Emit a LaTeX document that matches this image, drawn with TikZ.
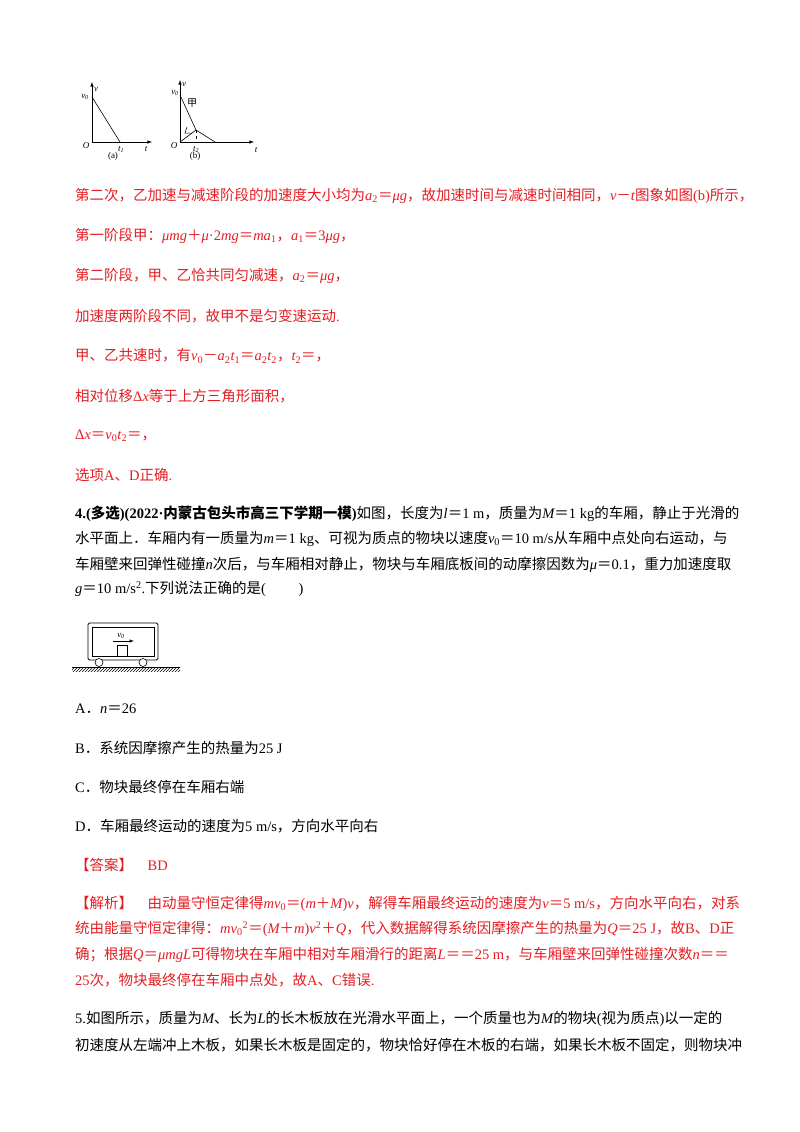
\documentclass[tikz,border=0pt]{standalone}
\usepackage{fontspec}
\setmainfont{Noto Sans CJK SC}
\newfontfamily\lt{Liberation Serif}
\newcommand{\mi}[1]{{\lt\itshape #1}}
\newcommand{\ru}[1]{{\lt #1}}
\usetikzlibrary{patterns}
\definecolor{ans}{RGB}{228,30,36}
\begin{document}
\begin{tikzpicture}[x=1pt,y=-1pt,
  tx/.style={anchor=west,inner sep=0,font=\fontsize{14.5}{16}\selectfont},
  rt/.style={tx,text=ans},
  gl/.style={inner sep=0,font=\lt\itshape\fontsize{9}{10}\selectfont},
  ax/.style={-latex,line width=0.6pt}]
\useasboundingbox[fill=white] (0,0) rectangle (800,1132);
% graph (a)
\coordinate (oa) at (92,142);
\draw[ax] (oa) -- (92,82);
\draw[ax] (oa) -- (152,142);
\draw[line width=0.6pt] (92,97) -- (120,142);
\node[gl] (va) at (85,97) {v\textsubscript{0}};
\node[gl] at (96,89) {v};
\node[gl] at (86,146) {O};
\node[gl] at (121,149) {t\textsubscript{1}};
\node[gl] at (146,149) {t};
\node[inner sep=0,font=\lt\fontsize{9}{10}\selectfont] at (113,156) {(a)};
% graph (b)
\coordinate (ob) at (180,142);
\draw[ax] (ob) -- (180,80);
\draw[ax] (ob) -- (254,142);
\draw[line width=0.6pt] (180,95) -- (196,130) -- (215,142);
\draw[line width=0.6pt] (180,142) -- (196,130);
\draw[dashed,line width=0.5pt] (196,130) -- (196,142);
\draw[line width=0.5pt] (187,127) -- (185,133) -- (192,133);
\node[gl] at (184,84) {v};
\node[gl] at (175,93) {v\textsubscript{0}};
\node[inner sep=0,font=\fontsize{10}{11}\selectfont] at (192,103) {甲};
\node[gl] at (174,146) {O};
\node[gl] at (196,149) {t\textsubscript{2}};
\node[gl] at (256,150) {t};
\node[inner sep=0,font=\lt\fontsize{9}{10}\selectfont] at (195,156) {(b)};
% red text
\node[rt] (l1) at (75,196) {第二次，乙加速与减速阶段的加速度大小均为\mi{a}\ru{\textsubscript{2}}＝\mi{μg}，故加速时间与减速时间相同，\mi{v}－\mi{t}图象如图\ru{(b)}所示，};
\node[rt] (l2) at (75,236) {第一阶段甲：\mi{μmg}＋\mi{μ}\ru{·2}\mi{mg}＝\mi{ma}\ru{\textsubscript{1}}，\mi{a}\ru{\textsubscript{1}}＝\ru{3}\mi{μg}，};
\node[rt] (l3) at (75,276) {第二阶段，甲、乙恰共同匀减速，\mi{a}\ru{\textsubscript{2}}＝\mi{μg}，};
\node[rt] (l4) at (75,316) {加速度两阶段不同，故甲不是匀变速运动\ru{.}};
\node[rt] (l5) at (75,356) {甲、乙共速时，有\mi{v}\ru{\textsubscript{0}}－\mi{a}\ru{\textsubscript{2}}\mi{t}\ru{\textsubscript{1}}＝\mi{a}\ru{\textsubscript{2}}\mi{t}\ru{\textsubscript{2}}，\mi{t}\ru{\textsubscript{2}}＝，};
\node[rt] (l6) at (75,396) {相对位移\ru{Δ}\mi{x}等于上方三角形面积，};
\node[rt] (l7) at (75,436) {\ru{Δ}\mi{x}＝\mi{v}\ru{\textsubscript{0}}\mi{t}\ru{\textsubscript{2}}＝，};
\node[rt] (l8) at (75,475) {选项\ru{A}、\ru{D}正确\ru{.}};
% question 4
\node[tx] (q1) at (75,514) {\ru{\textbf{4.(}}\textbf{多选}\ru{\textbf{)(2022·}}\textbf{内蒙古包头市高三下学期一模}\ru{\textbf{)}}如图，长度为\mi{l}＝\ru{1 m}，质量为\mi{M}＝\ru{1 kg}的车厢，静止于光滑的};
\node[tx] (q2) at (75,539) {水平面上．车厢内有一质量为\mi{m}＝\ru{1 kg}、可视为质点的物块以速度\mi{v}\ru{\textsubscript{0}}＝\ru{10 m/s}从车厢中点处向右运动，与};
\node[tx] (q3) at (75,565) {车厢壁来回弹性碰撞\mi{n}次后，与车厢相对静止，物块与车厢底板间的动摩擦因数为\mi{μ}＝\ru{0.1}，重力加速度取};
\node[tx] (q4) at (75,589) {\mi{g}＝\ru{10 m/s\textsuperscript{2}.}下列说法正确的是\ru{(\qquad\ )}};
% cart
\fill[pattern=north east lines] (72,667) rectangle (180,671);
\draw[line width=0.6pt] (72,667) -- (180,667);
\draw[line width=0.8pt,rounded corners=1.5] (88,623) rectangle (158,660);
\draw[line width=0.6pt] (92,627) rectangle (154,656);
\draw[line width=0.6pt] (117,645) rectangle (127,656);
\draw[-latex,line width=0.5pt] (113,641) -- (134,641);
\node[gl] at (121,636) {v\textsubscript{0}};
\draw[line width=0.6pt,fill=white] (99,662.5) circle (4);
\draw[line width=0.6pt,fill=white] (143,662.5) circle (4);
% options
\node[tx] (oA) at (75,709) {\ru{A}．\mi{n}＝\ru{26}};
\node[tx] (oB) at (75,748) {\ru{B}．系统因摩擦产生的热量为\ru{25 J}};
\node[tx] (oC) at (75,787) {\ru{C}．物块最终停在车厢右端};
\node[tx] (oD) at (75,826) {\ru{D}．车厢最终运动的速度为\ru{5 m/s}，方向水平向右};
\node[rt] (an) at (75,865) {【答案】\quad\ru{BD}};
\node[rt] (j1) at (75,904) {【解析】\quad 由动量守恒定律得\mi{mv}\ru{\textsubscript{0}}＝\ru{(}\mi{m}＋\mi{M}\ru{)}\mi{v}，解得车厢最终运动的速度为\mi{v}＝\ru{5 m/s}，方向水平向右，对系};
\node[rt] (j2) at (75,929) {统由能量守恒定律得：\mi{mv}\ru{\textsubscript{0}\textsuperscript{2}}＝\ru{(}\mi{M}＋\mi{m}\ru{)}\mi{v}\ru{\textsuperscript{2}}＋\mi{Q}，代入数据解得系统因摩擦产生的热量为\mi{Q}＝\ru{25 J}，故\ru{B}、\ru{D}正};
\node[rt] (j3) at (75,955) {确；根据\mi{Q}＝\mi{μmgL}可得物块在车厢中相对车厢滑行的距离\mi{L}＝＝\ru{25 m}，与车厢壁来回弹性碰撞次数\mi{n}＝＝};
\node[rt] (j4) at (75,980) {\ru{25}次，物块最终停在车厢中点处，故\ru{A}、\ru{C}错误\ru{.}};
\node[tx] (p1) at (75,1019) {\ru{5.}如图所示，质量为\mi{M}、长为\mi{L}的长木板放在光滑水平面上，一个质量也为\mi{M}的物块\ru{(}视为质点\ru{)}以一定的};
\node[tx] (p2) at (75,1045) {初速度从左端冲上木板，如果长木板是固定的，物块恰好停在木板的右端，如果长木板不固定，则物块冲};
\end{tikzpicture}
\end{document}
